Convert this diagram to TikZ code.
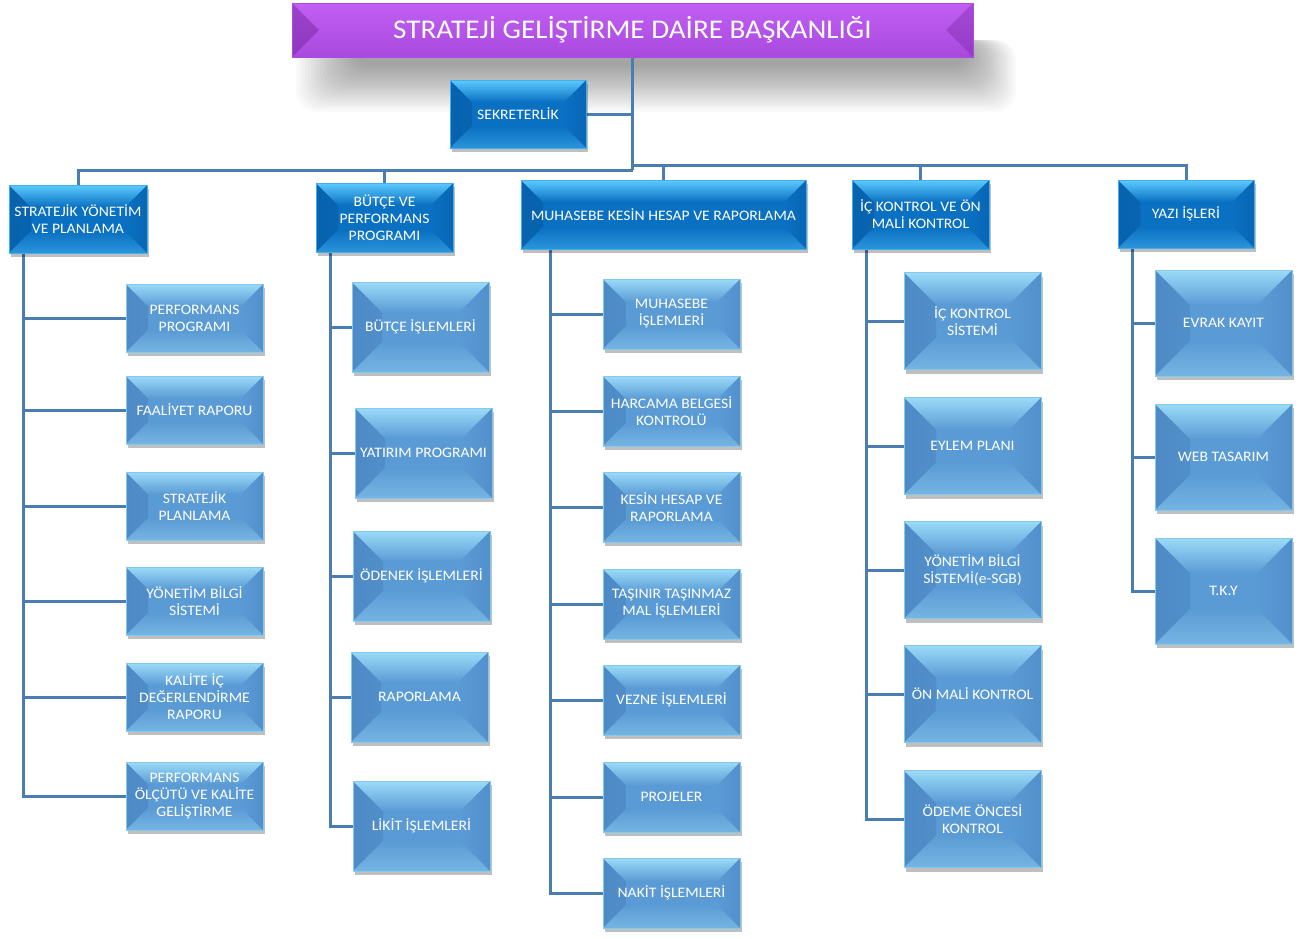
\documentclass[tikz,border=0pt]{standalone}
\usepackage{fontspec}
\setmainfont{Carlito}[FakeStretch=1.08]
\usetikzlibrary{shadows,backgrounds}
\definecolor{cbase}{HTML}{5B9BD5}
\definecolor{clight}{HTML}{9ADBF8}
\definecolor{cdark}{HTML}{4E8BC6}
\definecolor{pbase}{HTML}{0A70C2}
\definecolor{plight}{HTML}{5CCBFF}
\definecolor{pdark}{HTML}{0862AE}
\definecolor{tbase}{HTML}{8A2EC0}
\definecolor{tlight}{HTML}{C25FF4}
\definecolor{tdark}{HTML}{70229C}
\definecolor{lineblue}{HTML}{4A7DB0}
\tikzset{
  bev/.style n args={4}{fill=#1, draw=#2!70!#1, line width=0.7pt,
    inner sep=0pt, align=center, text=white,
    font=\fontsize{14.5}{17}\selectfont,
    drop shadow={shadow xshift=2pt, shadow yshift=-4pt, opacity=0.25, fill=black},
    path picture={
      \shade[left color=#3, right color=#1]
        (path picture bounding box.north west)
        -- ([shift={(#4pt,-#4pt)}]path picture bounding box.north west)
        -- ([shift={(#4pt,#4pt)}]path picture bounding box.south west)
        -- (path picture bounding box.south west) -- cycle;
      \shade[left color=#1, right color=#3!70!#1]
        (path picture bounding box.north east)
        -- ([shift={(-#4pt,-#4pt)}]path picture bounding box.north east)
        -- ([shift={(-#4pt,#4pt)}]path picture bounding box.south east)
        -- (path picture bounding box.south east) -- cycle;
      \shade[top color=#2, bottom color=#1]
        (path picture bounding box.north west)
        -- (path picture bounding box.north east)
        -- ([shift={(-#4pt,-#4pt)}]path picture bounding box.north east)
        -- ([shift={(#4pt,-#4pt)}]path picture bounding box.north west) -- cycle;
      \shade[top color=#1, bottom color=#2!40!#1]
        (path picture bounding box.south west)
        -- (path picture bounding box.south east)
        -- ([shift={(-#4pt,#4pt)}]path picture bounding box.south east)
        -- ([shift={(#4pt,#4pt)}]path picture bounding box.south west) -- cycle;
    }},
  cbox/.style={bev={cbase}{clight}{cdark}{#1}, minimum width=137pt},
  pbox/.style={bev={pbase}{plight}{pdark}{#1}},
  conn/.style={draw=lineblue, line width=3pt},
}
\begin{document}
\begin{tikzpicture}[x=1pt,y=-1pt]
\useasboundingbox (0,0) rectangle (1299,938);

% title
\node[inner sep=0pt, minimum width=681pt, minimum height=54pt, draw=tlight!60!tbase, line width=0.7pt,
  top color=tlight, middle color=tbase, bottom color=tlight!55!tbase, text=white,
  font=\fontsize{27}{30}\selectfont,
  path picture={
    \fill[tdark, opacity=0.45] (path picture bounding box.north west)
      -- ([shift={(27pt,-27pt)}]path picture bounding box.north west)
      -- (path picture bounding box.south west) -- cycle;
    \fill[tdark, opacity=0.35] (path picture bounding box.north east)
      -- ([shift={(-27pt,-27pt)}]path picture bounding box.north east)
      -- (path picture bounding box.south east) -- cycle;
  }] (title) at (632.5,30) {STRATEJİ GELİŞTİRME DAİRE BAŞKANLIĞI};

\node[pbox=22, minimum width=136pt, minimum height=68pt] (sek) at (518,114) {SEKRETERLİK};

% level 1
\node[pbox=22, minimum width=138pt, minimum height=68pt] (sy) at (78,219) {STRATEJİK YÖNETİM\\VE PLANLAMA};
\node[pbox=22, minimum width=137pt, minimum height=69pt] (bp) at (384.5,217.5) {BÜTÇE VE\\PERFORMANS\\PROGRAMI};
\node[pbox=22, minimum width=285pt, minimum height=69pt] (mk) at (663.5,214.5) {MUHASEBE KESİN HESAP VE RAPORLAMA};
\node[pbox=22, minimum width=137pt, minimum height=69pt] (ik) at (920.5,214.5) {İÇ KONTROL VE ÖN\\MALİ KONTROL};
\node[pbox=22, minimum width=136pt, minimum height=68pt] (yi) at (1186,214) {YAZI İŞLERİ};

% column 1
\begin{scope}[every node/.style={cbox=22, minimum height=68pt}]
\node (a1) at (194.5,318) {PERFORMANS\\PROGRAMI};
\node (a2) at (194.5,410) {FAALİYET RAPORU};
\node (a3) at (194.5,506) {STRATEJİK\\PLANLAMA};
\node (a4) at (194.5,601) {YÖNETİM BİLGİ\\SİSTEMİ};
\node (a5) at (194.5,697) {KALİTE İÇ\\DEĞERLENDİRME\\RAPORU};
\node (a6) at (194.5,796) {PERFORMANS\\ÖLÇÜTÜ VE KALİTE\\GELİŞTİRME};
\end{scope}
% column 2
\begin{scope}[every node/.style={cbox=30, minimum height=90pt}]
\node (b1) at (420.5,327) {BÜTÇE İŞLEMLERİ};
\node (b2) at (423.5,453) {YATIRIM PROGRAMI};
\node (b3) at (421.5,576) {ÖDENEK İŞLEMLERİ};
\node (b4) at (419.5,697) {RAPORLAMA};
\node (b5) at (421.5,826) {LİKİT İŞLEMLERİ};
\end{scope}
% column 3
\begin{scope}[every node/.style={cbox=23, minimum height=70pt}]
\node (c1) at (671.5,314) {MUHASEBE\\İŞLEMLERİ};
\node (c2) at (671.5,411) {HARCAMA BELGESİ\\KONTROLÜ};
\node (c3) at (671.5,507) {KESİN HESAP VE\\RAPORLAMA};
\node (c4) at (671.5,604) {TAŞINIR TAŞINMAZ\\MAL İŞLEMLERİ};
\node (c5) at (671.5,700) {VEZNE İŞLEMLERİ};
\node (c6) at (671.5,797) {PROJELER};
\node (c7) at (671.5,893) {NAKİT İŞLEMLERİ};
\end{scope}
% column 4
\begin{scope}[every node/.style={cbox=32, minimum height=97pt}]
\node (d1) at (972.5,321) {İÇ KONTROL\\SİSTEMİ};
\node (d2) at (972.5,446) {EYLEM PLANI};
\node (d3) at (972.5,570) {YÖNETİM BİLGİ\\SİSTEMİ(e-SGB)};
\node (d4) at (972.5,694) {ÖN MALİ KONTROL};
\node (d5) at (972.5,819) {ÖDEME ÖNCESİ\\KONTROL};
\end{scope}
% column 5
\begin{scope}[every node/.style={cbox=35, minimum height=106pt}]
\node (e1) at (1223.5,323) {EVRAK KAYIT};
\node (e2) at (1223.5,457) {WEB TASARIM};
\node (e3) at (1223.5,591) {T.K.Y};
\end{scope}

\begin{scope}[on background layer]
  \fill[white] (0,0) rectangle (1299,938);
  % title shadow (soft)
  \foreach \i in {0,...,19}
    \fill[black, opacity=0.018, rounded corners=20pt]
      ({296+3*\i},40) rectangle ({1016-2.5*\i},{112-2.4*\i});
  \coordinate (hubL) at (632.5,170);
  \coordinate (hubR) at (632.5,165);
  \draw[conn] (title.south) -- (hubL);
  \draw[conn] (sek.east) -- (sek.east -| title.south);
  \draw[conn] (hubL) -| (sy.north);
  \draw[conn] (bp.north) -- (bp.north |- hubL);
  \draw[conn] (hubR) -| (yi.north);
  \draw[conn] (mk.north) -- (mk.north |- hubR);
  \draw[conn] (ik.north) -- (ik.north |- hubR);
  % column spines
  \foreach \n in {a1,a2,a3,a4,a5}
    \draw[conn] ([xshift=15pt]sy.south west |- \n.west) -- (\n.west);
  \draw[conn] ([xshift=15pt]sy.south west) |- (a6.west);
  \foreach \n in {b1,b2,b3,b4}
    \draw[conn] ([xshift=15pt]bp.south west |- \n.west) -- (\n.west);
  \draw[conn] ([xshift=15pt]bp.south west) |- (b5.west);
  \foreach \n in {c1,c2,c3,c4,c5,c6}
    \draw[conn] ([xshift=30pt]mk.south west |- \n.west) -- (\n.west);
  \draw[conn] ([xshift=30pt]mk.south west) |- (c7.west);
  \foreach \n in {d1,d2,d3,d4}
    \draw[conn] ([xshift=15pt]ik.south west |- \n.west) -- (\n.west);
  \draw[conn] ([xshift=15pt]ik.south west) |- (d5.west);
  \foreach \n in {e1,e2}
    \draw[conn] ([xshift=15pt]yi.south west |- \n.west) -- (\n.west);
  \draw[conn] ([xshift=15pt]yi.south west) |- (e3.west);
\end{scope}
\end{tikzpicture}
\end{document}
